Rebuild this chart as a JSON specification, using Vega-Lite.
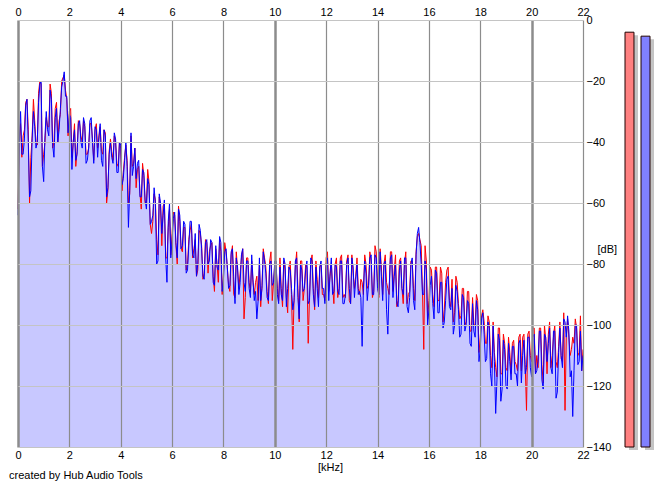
{
  "$schema": "https://vega.github.io/schema/vega-lite/v6.json",
  "background": "white",
  "padding": {"left": 9, "top": 6, "right": 5, "bottom": 4},
  "title": {"text": "created by Hub Audio Tools", "orient": "bottom", "anchor": "start", "frame": "group", "fontSize": 11, "fontWeight": "normal", "font": "Liberation Sans", "color": "black", "offset": -2, "dx": -9},
  "config": {
    "view": {"stroke": null},
    "axis": {"labelFont": "Liberation Sans", "labelFontSize": 11, "labelColor": "black", "titleFont": "Liberation Sans", "titleFontSize": 11, "titleFontWeight": "normal", "titleColor": "black", "ticks": false, "tickSize": 0, "domain": false, "labelFlush": false}
  },
  "datasets": {
    "spec": [
      {"f":0.0,"L":-62,"R":-64},{"f":0.05,"L":-39,"R":-41},{"f":0.1,"L":-34,"R":-30},{"f":0.15,"L":-45,"R":-44},{"f":0.2,"L":-38,"R":-44},
      {"f":0.25,"L":-36,"R":-39},{"f":0.3,"L":-27,"R":-28},{"f":0.35,"L":-26,"R":-26},{"f":0.4,"L":-36,"R":-40},{"f":0.45,"L":-60,"R":-58},
      {"f":0.5,"L":-45,"R":-56},{"f":0.55,"L":-38,"R":-39},{"f":0.6,"L":-26,"R":-30},{"f":0.65,"L":-33,"R":-35},{"f":0.7,"L":-40,"R":-42},
      {"f":0.75,"L":-41,"R":-40},{"f":0.8,"L":-24,"R":-27},{"f":0.85,"L":-20,"R":-21},{"f":0.9,"L":-21,"R":-20},{"f":0.95,"L":-48,"R":-48},
      {"f":1.0,"L":-44,"R":-53},{"f":1.05,"L":-40,"R":-38},{"f":1.1,"L":-32,"R":-30},{"f":1.15,"L":-35,"R":-36},{"f":1.2,"L":-35,"R":-38},
      {"f":1.25,"L":-21,"R":-23},{"f":1.3,"L":-24,"R":-26},{"f":1.35,"L":-42,"R":-41},{"f":1.4,"L":-40,"R":-45},{"f":1.45,"L":-29,"R":-32},
      {"f":1.5,"L":-27,"R":-29},{"f":1.55,"L":-40,"R":-40},{"f":1.6,"L":-33,"R":-36},{"f":1.65,"L":-31,"R":-29},{"f":1.7,"L":-20,"R":-22},
      {"f":1.75,"L":-19,"R":-20},{"f":1.8,"L":-18,"R":-17},{"f":1.85,"L":-23,"R":-25},{"f":1.9,"L":-26,"R":-25},{"f":1.95,"L":-38,"R":-37},
      {"f":2.0,"L":-30,"R":-31},{"f":2.05,"L":-29,"R":-32},{"f":2.1,"L":-45,"R":-49},{"f":2.15,"L":-40,"R":-40},{"f":2.2,"L":-34,"R":-36},
      {"f":2.25,"L":-48,"R":-46},{"f":2.3,"L":-43,"R":-44},{"f":2.35,"L":-33,"R":-34},{"f":2.4,"L":-34,"R":-33},{"f":2.45,"L":-38,"R":-40},
      {"f":2.5,"L":-40,"R":-42},{"f":2.55,"L":-33,"R":-32},{"f":2.6,"L":-35,"R":-34},{"f":2.65,"L":-44,"R":-47},{"f":2.7,"L":-44,"R":-46},
      {"f":2.75,"L":-42,"R":-42},{"f":2.8,"L":-34,"R":-33},{"f":2.85,"L":-34,"R":-32},{"f":2.9,"L":-39,"R":-40},{"f":2.95,"L":-46,"R":-47},
      {"f":3.0,"L":-36,"R":-35},{"f":3.05,"L":-34,"R":-36},{"f":3.1,"L":-42,"R":-45},{"f":3.15,"L":-39,"R":-38},{"f":3.2,"L":-35,"R":-34},
      {"f":3.25,"L":-43,"R":-46},{"f":3.3,"L":-44,"R":-48},{"f":3.35,"L":-36,"R":-36},{"f":3.4,"L":-37,"R":-38},{"f":3.45,"L":-60,"R":-58},
      {"f":3.5,"L":-56,"R":-55},{"f":3.55,"L":-43,"R":-44},{"f":3.6,"L":-39,"R":-40},{"f":3.65,"L":-43,"R":-45},{"f":3.7,"L":-46,"R":-47},
      {"f":3.75,"L":-38,"R":-37},{"f":3.8,"L":-40,"R":-39},{"f":3.85,"L":-47,"R":-50},{"f":3.9,"L":-48,"R":-50},{"f":3.95,"L":-40,"R":-40},
      {"f":4.0,"L":-42,"R":-41},{"f":4.05,"L":-56,"R":-54},{"f":4.1,"L":-50,"R":-52},{"f":4.15,"L":-45,"R":-46},{"f":4.2,"L":-41,"R":-40},
      {"f":4.25,"L":-46,"R":-48},{"f":4.3,"L":-60,"R":-68},{"f":4.35,"L":-57,"R":-56},{"f":4.4,"L":-38,"R":-37},{"f":4.45,"L":-48,"R":-51},
      {"f":4.5,"L":-47,"R":-48},{"f":4.55,"L":-42,"R":-42},{"f":4.6,"L":-55,"R":-52},{"f":4.65,"L":-49,"R":-47},{"f":4.7,"L":-48,"R":-46},
      {"f":4.75,"L":-57,"R":-58},{"f":4.8,"L":-62,"R":-58},{"f":4.85,"L":-47,"R":-49},{"f":4.9,"L":-51,"R":-50},{"f":4.95,"L":-60,"R":-59},
      {"f":5.0,"L":-60,"R":-62},{"f":5.05,"L":-49,"R":-52},{"f":5.1,"L":-53,"R":-54},{"f":5.15,"L":-67,"R":-67},{"f":5.2,"L":-70,"R":-66},
      {"f":5.25,"L":-66,"R":-64},{"f":5.3,"L":-57,"R":-55},{"f":5.35,"L":-59,"R":-60},{"f":5.4,"L":-72,"R":-80},{"f":5.45,"L":-77,"R":-79},
      {"f":5.5,"L":-58,"R":-57},{"f":5.55,"L":-61,"R":-60},{"f":5.6,"L":-74,"R":-70},{"f":5.65,"L":-61,"R":-64},{"f":5.7,"L":-60,"R":-59},
      {"f":5.75,"L":-78,"R":-78},{"f":5.8,"L":-78,"R":-86},{"f":5.85,"L":-68,"R":-66},{"f":5.9,"L":-62,"R":-60},{"f":5.95,"L":-77,"R":-78},
      {"f":6.0,"L":-70,"R":-72},{"f":6.05,"L":-63,"R":-65},{"f":6.1,"L":-64,"R":-63},{"f":6.15,"L":-74,"R":-73},{"f":6.2,"L":-80,"R":-78},
      {"f":6.25,"L":-61,"R":-62},{"f":6.3,"L":-66,"R":-64},{"f":6.35,"L":-75,"R":-75},{"f":6.4,"L":-76,"R":-74},{"f":6.45,"L":-68,"R":-66},
      {"f":6.5,"L":-68,"R":-67},{"f":6.55,"L":-82,"R":-83},{"f":6.6,"L":-80,"R":-82},{"f":6.65,"L":-72,"R":-74},{"f":6.7,"L":-69,"R":-66},
      {"f":6.75,"L":-67,"R":-66},{"f":6.8,"L":-78,"R":-77},{"f":6.85,"L":-75,"R":-78},{"f":6.9,"L":-72,"R":-70},{"f":6.95,"L":-84,"R":-84},
      {"f":7.0,"L":-82,"R":-80},{"f":7.05,"L":-69,"R":-67},{"f":7.1,"L":-70,"R":-69},{"f":7.15,"L":-74,"R":-75},{"f":7.2,"L":-85,"R":-84},
      {"f":7.25,"L":-83,"R":-85},{"f":7.3,"L":-72,"R":-73},{"f":7.35,"L":-73,"R":-72},{"f":7.4,"L":-83,"R":-80},{"f":7.45,"L":-76,"R":-79},
      {"f":7.5,"L":-74,"R":-72},{"f":7.55,"L":-73,"R":-73},{"f":7.6,"L":-84,"R":-86},{"f":7.65,"L":-89,"R":-87},{"f":7.7,"L":-75,"R":-74},
      {"f":7.75,"L":-80,"R":-81},{"f":7.8,"L":-86,"R":-82},{"f":7.85,"L":-72,"R":-71},{"f":7.9,"L":-76,"R":-73},{"f":7.95,"L":-90,"R":-89},
      {"f":8.0,"L":-83,"R":-85},{"f":8.05,"L":-73,"R":-76},{"f":8.1,"L":-76,"R":-75},{"f":8.15,"L":-81,"R":-81},{"f":8.2,"L":-87,"R":-88},
      {"f":8.25,"L":-89,"R":-87},{"f":8.3,"L":-77,"R":-76},{"f":8.35,"L":-74,"R":-75},{"f":8.4,"L":-90,"R":-84},{"f":8.45,"L":-91,"R":-93},
      {"f":8.5,"L":-76,"R":-78},{"f":8.55,"L":-82,"R":-81},{"f":8.6,"L":-88,"R":-90},{"f":8.65,"L":-83,"R":-86},{"f":8.7,"L":-78,"R":-77},
      {"f":8.75,"L":-75,"R":-75},{"f":8.8,"L":-98,"R":-86},{"f":8.85,"L":-91,"R":-89},{"f":8.9,"L":-78,"R":-79},{"f":8.95,"L":-78,"R":-79},
      {"f":9.0,"L":-86,"R":-88},{"f":9.05,"L":-89,"R":-91},{"f":9.1,"L":-79,"R":-77},{"f":9.15,"L":-86,"R":-85},{"f":9.2,"L":-90,"R":-92},
      {"f":9.25,"L":-86,"R":-89},{"f":9.3,"L":-84,"R":-98},{"f":9.35,"L":-92,"R":-92},{"f":9.4,"L":-80,"R":-78},{"f":9.45,"L":-94,"R":-92},
      {"f":9.5,"L":-87,"R":-88},{"f":9.55,"L":-75,"R":-76},{"f":9.6,"L":-78,"R":-79},{"f":9.65,"L":-81,"R":-83},{"f":9.7,"L":-89,"R":-91},
      {"f":9.75,"L":-93,"R":-92},{"f":9.8,"L":-79,"R":-80},{"f":9.85,"L":-76,"R":-79},{"f":9.9,"L":-92,"R":-87},{"f":9.95,"L":-86,"R":-86},
      {"f":10.0,"L":-80,"R":-79},{"f":10.05,"L":-81,"R":-79},{"f":10.1,"L":-88,"R":-90},{"f":10.15,"L":-92,"R":-93},{"f":10.2,"L":-78,"R":-81},
      {"f":10.25,"L":-88,"R":-90},{"f":10.3,"L":-94,"R":-92},{"f":10.35,"L":-79,"R":-78},{"f":10.4,"L":-82,"R":-80},{"f":10.45,"L":-91,"R":-94},
      {"f":10.5,"L":-96,"R":-88},{"f":10.55,"L":-81,"R":-81},{"f":10.6,"L":-79,"R":-82},{"f":10.65,"L":-90,"R":-88},{"f":10.7,"L":-108,"R":-95},
      {"f":10.75,"L":-91,"R":-92},{"f":10.8,"L":-81,"R":-79},{"f":10.85,"L":-76,"R":-78},{"f":10.9,"L":-88,"R":-91},{"f":10.95,"L":-99,"R":-98},
      {"f":11.0,"L":-79,"R":-80},{"f":11.05,"L":-79,"R":-82},{"f":11.1,"L":-92,"R":-89},{"f":11.15,"L":-88,"R":-88},{"f":11.2,"L":-80,"R":-82},
      {"f":11.25,"L":-81,"R":-79},{"f":11.3,"L":-106,"R":-93},{"f":11.35,"L":-91,"R":-92},{"f":11.4,"L":-80,"R":-78},{"f":11.45,"L":-77,"R":-79},
      {"f":11.5,"L":-88,"R":-90},{"f":11.55,"L":-95,"R":-94},{"f":11.6,"L":-79,"R":-81},{"f":11.65,"L":-85,"R":-88},{"f":11.7,"L":-91,"R":-94},
      {"f":11.75,"L":-81,"R":-81},{"f":11.8,"L":-80,"R":-79},{"f":11.85,"L":-90,"R":-88},{"f":11.9,"L":-90,"R":-88},{"f":11.95,"L":-92,"R":-93},
      {"f":12.0,"L":-78,"R":-80},{"f":12.05,"L":-76,"R":-78},{"f":12.1,"L":-89,"R":-92},{"f":12.15,"L":-84,"R":-83},{"f":12.2,"L":-80,"R":-78},
      {"f":12.25,"L":-87,"R":-90},{"f":12.3,"L":-93,"R":-89},{"f":12.35,"L":-80,"R":-80},{"f":12.4,"L":-78,"R":-81},{"f":12.45,"L":-91,"R":-89},
      {"f":12.5,"L":-88,"R":-90},{"f":12.55,"L":-78,"R":-79},{"f":12.6,"L":-77,"R":-79},{"f":12.65,"L":-91,"R":-93},{"f":12.7,"L":-90,"R":-93},
      {"f":12.75,"L":-91,"R":-90},{"f":12.8,"L":-79,"R":-80},{"f":12.85,"L":-77,"R":-78},{"f":12.9,"L":-92,"R":-88},{"f":12.95,"L":-93,"R":-93},
      {"f":13.0,"L":-77,"R":-78},{"f":13.05,"L":-83,"R":-81},{"f":13.1,"L":-88,"R":-91},{"f":13.15,"L":-84,"R":-85},{"f":13.2,"L":-78,"R":-80},
      {"f":13.25,"L":-88,"R":-90},{"f":13.3,"L":-90,"R":-89},{"f":13.35,"L":-85,"R":-91},{"f":13.4,"L":-86,"R":-107},{"f":13.45,"L":-90,"R":-88},
      {"f":13.5,"L":-77,"R":-79},{"f":13.55,"L":-80,"R":-83},{"f":13.6,"L":-88,"R":-92},{"f":13.65,"L":-87,"R":-87},{"f":13.7,"L":-76,"R":-78},
      {"f":13.75,"L":-79,"R":-77},{"f":13.8,"L":-91,"R":-90},{"f":13.85,"L":-89,"R":-90},{"f":13.9,"L":-74,"R":-77},{"f":13.95,"L":-76,"R":-78},
      {"f":14.0,"L":-86,"R":-88},{"f":14.05,"L":-91,"R":-90},{"f":14.1,"L":-75,"R":-76},{"f":14.15,"L":-81,"R":-84},{"f":14.2,"L":-90,"R":-92},
      {"f":14.25,"L":-80,"R":-80},{"f":14.3,"L":-77,"R":-79},{"f":14.35,"L":-86,"R":-95},{"f":14.4,"L":-88,"R":-103},{"f":14.45,"L":-90,"R":-88},
      {"f":14.5,"L":-76,"R":-78},{"f":14.55,"L":-76,"R":-77},{"f":14.6,"L":-89,"R":-91},{"f":14.65,"L":-82,"R":-84},{"f":14.7,"L":-77,"R":-80},
      {"f":14.75,"L":-94,"R":-93},{"f":14.8,"L":-92,"R":-94},{"f":14.85,"L":-79,"R":-82},{"f":14.9,"L":-78,"R":-79},{"f":14.95,"L":-88,"R":-88},
      {"f":15.0,"L":-93,"R":-90},{"f":15.05,"L":-80,"R":-78},{"f":15.1,"L":-76,"R":-78},{"f":15.15,"L":-93,"R":-94},{"f":15.2,"L":-90,"R":-96},
      {"f":15.25,"L":-89,"R":-91},{"f":15.3,"L":-79,"R":-80},{"f":15.35,"L":-79,"R":-78},{"f":15.4,"L":-88,"R":-92},{"f":15.45,"L":-92,"R":-95},
      {"f":15.5,"L":-76,"R":-77},{"f":15.55,"L":-71,"R":-70},{"f":15.6,"L":-70,"R":-68},{"f":15.65,"L":-72,"R":-73},{"f":15.7,"L":-74,"R":-80},
      {"f":15.75,"L":-89,"R":-90},{"f":15.8,"L":-108,"R":-90},{"f":15.85,"L":-74,"R":-79},{"f":15.9,"L":-79,"R":-82},{"f":15.95,"L":-98,"R":-100},
      {"f":16.0,"L":-92,"R":-95},{"f":16.05,"L":-81,"R":-87},{"f":16.1,"L":-82,"R":-84},{"f":16.15,"L":-90,"R":-93},{"f":16.2,"L":-94,"R":-98},
      {"f":16.25,"L":-81,"R":-82},{"f":16.3,"L":-81,"R":-83},{"f":16.35,"L":-92,"R":-96},{"f":16.4,"L":-92,"R":-96},{"f":16.45,"L":-81,"R":-86},
      {"f":16.5,"L":-83,"R":-86},{"f":16.55,"L":-99,"R":-101},{"f":16.6,"L":-95,"R":-99},{"f":16.65,"L":-86,"R":-92},{"f":16.7,"L":-82,"R":-85},
      {"f":16.75,"L":-81,"R":-84},{"f":16.8,"L":-92,"R":-94},{"f":16.85,"L":-94,"R":-95},{"f":16.9,"L":-85,"R":-88},{"f":16.95,"L":-99,"R":-103},
      {"f":17.0,"L":-96,"R":-100},{"f":17.05,"L":-84,"R":-87},{"f":17.1,"L":-86,"R":-89},{"f":17.15,"L":-93,"R":-95},{"f":17.2,"L":-98,"R":-104},
      {"f":17.25,"L":-97,"R":-103},{"f":17.3,"L":-88,"R":-90},{"f":17.35,"L":-88,"R":-91},{"f":17.4,"L":-100,"R":-102},{"f":17.45,"L":-99,"R":-100},
      {"f":17.5,"L":-89,"R":-92},{"f":17.55,"L":-89,"R":-93},{"f":17.6,"L":-102,"R":-106},{"f":17.65,"L":-102,"R":-107},{"f":17.7,"L":-91,"R":-93},
      {"f":17.75,"L":-100,"R":-102},{"f":17.8,"L":-100,"R":-104},{"f":17.85,"L":-90,"R":-92},{"f":17.9,"L":-92,"R":-95},{"f":17.95,"L":-109,"R":-112},
      {"f":18.0,"L":-104,"R":-108},{"f":18.05,"L":-97,"R":-98},{"f":18.1,"L":-95,"R":-96},{"f":18.15,"L":-99,"R":-103},{"f":18.2,"L":-106,"R":-112},
      {"f":18.25,"L":-106,"R":-111},{"f":18.3,"L":-97,"R":-99},{"f":18.35,"L":-99,"R":-101},{"f":18.4,"L":-110,"R":-116},{"f":18.45,"L":-114,"R":-120},
      {"f":18.5,"L":-99,"R":-100},{"f":18.55,"L":-109,"R":-112},{"f":18.6,"L":-114,"R":-129},{"f":18.65,"L":-117,"R":-118},{"f":18.7,"L":-101,"R":-103},
      {"f":18.75,"L":-101,"R":-105},{"f":18.8,"L":-116,"R":-125},{"f":18.85,"L":-116,"R":-121},{"f":18.9,"L":-103,"R":-105},{"f":18.95,"L":-106,"R":-108},
      {"f":19.0,"L":-114,"R":-120},{"f":19.05,"L":-115,"R":-121},{"f":19.1,"L":-104,"R":-106},{"f":19.15,"L":-109,"R":-112},{"f":19.2,"L":-116,"R":-118},
      {"f":19.25,"L":-106,"R":-107},{"f":19.3,"L":-105,"R":-107},{"f":19.35,"L":-112,"R":-116},{"f":19.4,"L":-113,"R":-116},{"f":19.45,"L":-115,"R":-120},
      {"f":19.5,"L":-104,"R":-106},{"f":19.55,"L":-103,"R":-105},{"f":19.6,"L":-115,"R":-119},{"f":19.65,"L":-104,"R":-110},{"f":19.7,"L":-103,"R":-105},
      {"f":19.75,"L":-113,"R":-116},{"f":19.8,"L":-128,"R":-114},{"f":19.85,"L":-103,"R":-104},{"f":19.9,"L":-102,"R":-104},{"f":19.95,"L":-110,"R":-114},
      {"f":20.0,"L":-112,"R":-117},{"f":20.05,"L":-101,"R":-104},{"f":20.1,"L":-101,"R":-103},{"f":20.15,"L":-116,"R":-116},{"f":20.2,"L":-110,"R":-115},
      {"f":20.25,"L":-114,"R":-112},{"f":20.3,"L":-101,"R":-102},{"f":20.35,"L":-101,"R":-102},{"f":20.4,"L":-113,"R":-118},{"f":20.45,"L":-119,"R":-121},
      {"f":20.5,"L":-100,"R":-103},{"f":20.55,"L":-105,"R":-104},{"f":20.6,"L":-116,"R":-112},{"f":20.65,"L":-103,"R":-106},{"f":20.7,"L":-99,"R":-101},
      {"f":20.75,"L":-114,"R":-114},{"f":20.8,"L":-110,"R":-116},{"f":20.85,"L":-104,"R":-102},{"f":20.9,"L":-100,"R":-102},{"f":20.95,"L":-112,"R":-124},
      {"f":21.0,"L":-114,"R":-122},{"f":21.05,"L":-107,"R":-109},{"f":21.1,"L":-99,"R":-101},{"f":21.15,"L":-111,"R":-110},{"f":21.2,"L":-112,"R":-114},
      {"f":21.25,"L":-96,"R":-98},{"f":21.3,"L":-128,"R":-99},{"f":21.35,"L":-104,"R":-104},{"f":21.4,"L":-98,"R":-97},{"f":21.45,"L":-104,"R":-102},
      {"f":21.5,"L":-110,"R":-117},{"f":21.55,"L":-108,"R":-115},{"f":21.6,"L":-104,"R":-130},{"f":21.65,"L":-106,"R":-115},{"f":21.7,"L":-98,"R":-100},
      {"f":21.75,"L":-101,"R":-100},{"f":21.8,"L":-110,"R":-113},{"f":21.85,"L":-109,"R":-112},{"f":21.9,"L":-97,"R":-102},{"f":21.95,"L":-115,"R":-115},
      {"f":22.0,"L":-108,"R":-110}
    ],
    "meters": [
      {"ch": "L", "level": -4},
      {"ch": "R", "level": -5.3}
    ]
  },
  "hconcat": [
    {
      "width": 565,
      "height": 427,
      "data": {"name": "spec"},
      "transform": [{"fold": ["L", "R"], "as": ["ch", "db"]}],
      "resolve": {"axis": {"x": "independent"}},
      "layer": [
        {
          "transform": [{"aggregate": [{"op": "max", "field": "db", "as": "top"}], "groupby": ["f"]}],
          "mark": {"type": "area", "color": "#c8c8ff", "opacity": 1},
          "encoding": {
            "x": {"field": "f", "type": "quantitative", "scale": {"domain": [0, 22], "nice": false},
              "axis": {"orient": "bottom", "values": [0,2,4,6,8,10,12,14,16,18,20,22], "title": "[kHz]", "labelPadding": 2, "titleX": 312, "titleY": 20, "titleBaseline": "middle",
                "grid": true, "gridColor": "#8c8c8c", "gridWidth": {"condition": {"test": "datum.value % 10 === 0", "value": 2.5}, "value": 1.2}, "gridOpacity": 1, "zindex": 1}},
            "y": {"field": "top", "type": "quantitative", "scale": {"domain": [-140, 0], "nice": false},
              "axis": {"orient": "right", "values": [0,-20,-40,-60,-80,-100,-120,-140], "title": "[dB]", "labelPadding": 3,
                "titleAngle": 0, "titleAlign": "left", "titleBaseline": "middle", "titleX": 14, "titleY": 229,
                "grid": true, "gridColor": "#c4c4c4", "gridWidth": 1.2, "zindex": 1}},
            "y2": {"datum": -140}
          }
        },
        {
          "transform": [{"filter": "datum.ch === 'L'"}],
          "mark": {"type": "line", "color": "#ff0000", "strokeWidth": 1},
          "encoding": {
            "x": {"field": "f", "type": "quantitative", "axis": null},
            "y": {"field": "db", "type": "quantitative"}
          }
        },
        {
          "transform": [{"filter": "datum.ch === 'R'"}],
          "mark": {"type": "line", "color": "#0000ff", "strokeWidth": 1},
          "encoding": {
            "x": {"field": "f", "type": "quantitative",
              "axis": {"orient": "top", "values": [0,2,4,6,8,10,12,14,16,18,20,22], "title": null, "labelPadding": 3, "grid": false}},
            "y": {"field": "db", "type": "quantitative"}
          }
        }
      ]
    },
    {
      "width": 25,
      "height": 427,
      "data": {"name": "meters"},
      "layer": [
        {
          "mark": {"type": "bar", "color": "#c4c4c4", "xOffset": 4, "x2Offset": 4, "yOffset": 3, "y2Offset": 3},
          "encoding": {
            "x": {"field": "ch", "type": "nominal", "scale": {"paddingInner": 0.44, "paddingOuter": 0}, "axis": null},
            "y": {"field": "level", "type": "quantitative", "scale": {"domain": [-140, 0], "nice": false}, "axis": null},
            "y2": {"datum": -140}
          }
        },
        {
          "mark": {"type": "bar", "stroke": "#200000", "strokeWidth": 1},
          "encoding": {
            "x": {"field": "ch", "type": "nominal", "axis": null},
            "y": {"field": "level", "type": "quantitative", "axis": null},
            "y2": {"datum": -140},
            "color": {"field": "ch", "type": "nominal", "scale": {"domain": ["L", "R"], "range": ["#ff8080", "#8080ff"]}, "legend": null}
          }
        }
      ]
    }
  ],
  "spacing": 42,
  "bounds": "flush"
}
